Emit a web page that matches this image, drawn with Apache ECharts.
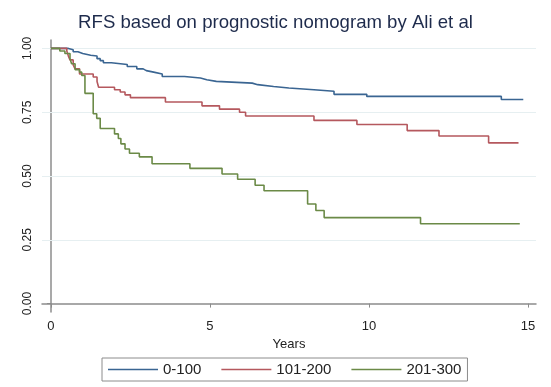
<!DOCTYPE html>
<html>
<head>
<meta charset="utf-8">
<script src="https://cdn.jsdelivr.net/npm/echarts@6/dist/echarts.min.js"></script>
<style>
	html, body { margin: 0; padding: 0; background: #fff; }
	#mychart { width: 551px; height: 387px; }
</style>
</head>
<body>
<div id="mychart"></div>
<script>
// 风险分组
var groups = ['0-100', '101-200', '201-300'];
// 刻度
var xTicks = [0, 5, 10, 15];
var yTicks = [0, 0.25, 0.5, 0.75, 1];
var gridVals = [0.25, 0.5, 0.75, 1];

// KM 曲线 [年, 生存率]
var low = [[0, 1], [0.55, 0.995], [0.7, 0.987], [0.85, 0.98], [1.0, 0.973], [1.25, 0.97], [1.45, 0.96],
	[1.55, 0.952], [1.65, 0.944], [1.9, 0.937], [2.4, 0.929], [2.7, 0.92], [2.9, 0.913], [3.0, 0.907],
	[3.23, 0.9], [3.5, 0.89], [4.2, 0.884], [4.7, 0.877], [4.9, 0.871], [5.2, 0.864], [6.33, 0.858],
	[6.5, 0.851], [7.0, 0.845], [7.48, 0.838], [8.27, 0.832], [8.9, 0.82], [9.93, 0.812], [14.16, 0.80],
	[14.85, 0.80]];
var mid = [[0, 1], [0.5, 0.99], [0.55, 0.97], [0.6, 0.955], [0.7, 0.935], [0.76, 0.92], [0.9, 0.9],
	[1.33, 0.888], [1.45, 0.87], [1.5, 0.848], [2.0, 0.838], [2.18, 0.829], [2.33, 0.818], [2.5, 0.807],
	[3.6, 0.79], [4.75, 0.775], [5.3, 0.762], [5.93, 0.75], [6.12, 0.735], [8.27, 0.718], [9.62, 0.702],
	[11.2, 0.678], [12.2, 0.657], [13.76, 0.63], [14.7, 0.63]];
var high = [[0, 1], [0.28, 0.99], [0.44, 0.98], [0.6, 0.96], [0.65, 0.94], [0.76, 0.917], [0.9, 0.907],
	[0.97, 0.894], [1.07, 0.824], [1.33, 0.744], [1.44, 0.726], [1.55, 0.686], [2.0, 0.665], [2.12, 0.647],
	[2.2, 0.626], [2.33, 0.606], [2.47, 0.589], [2.78, 0.575], [3.18, 0.548], [4.37, 0.53], [5.38, 0.508],
	[5.87, 0.487], [6.42, 0.464], [6.7, 0.442], [8.07, 0.39], [8.33, 0.365], [8.59, 0.337], [11.62, 0.313],
	[14.74, 0.313]];

var colors = ['#3a6592', '#b5585e', '#6b8a47'];
var font = 'Liberation Sans, Arial, sans-serif';

var myChart = echarts.init(document.getElementById('mychart'));
var option = {
	animation: false,
	color: colors,
	title: {
		text: 'RFS based on prognostic nomogram by Ali et al',
		left: 'center',
		top: 8,
		textStyle: {
			fontFamily: font,
			fontWeight: 'normal',
			fontSize: 18.6,
			color: '#1e2b4c'
		}
	},
	grid: {
		left: 42,
		right: 15,
		top: 40,
		bottom: 75
	},
	legend: {
		data: groups,
		left: 102,
		top: 358,
		icon: 'rect',
		itemWidth: 50,
		itemHeight: 1.5,
		itemGap: 20,
		padding: [4, 6, 4, 6],
		borderColor: '#8c8c8c',
		borderWidth: 1,
		textStyle: {
			fontFamily: font,
			fontSize: 15,
			color: '#222'
		}
	},
	xAxis: {
		type: 'value',
		min: -0.28,
		max: 15.25,
		name: 'Years',
		nameLocation: 'middle',
		nameGap: 25,
		nameTextStyle: { fontFamily: font, fontSize: 13, color: '#222' },
		axisLine: { lineStyle: { color: '#8c8c8c', width: 1.5 } },
		axisTick: { customValues: xTicks, length: 4, lineStyle: { color: '#8c8c8c' } },
		axisLabel: { customValues: xTicks, margin: 8, fontFamily: font, fontSize: 13, color: '#222' },
		splitLine: { show: false }
	},
	yAxis: {
		type: 'value',
		min: -0.033,
		max: 1.033,
		axisLine: { show: true, lineStyle: { color: '#8c8c8c', width: 1.5 } },
		axisTick: { show: true, customValues: yTicks, length: 4, lineStyle: { color: '#8c8c8c' } },
		axisLabel: {
			customValues: yTicks,
			rotate: 90,
			margin: 8,
			fontFamily: font,
			fontSize: 12,
			color: '#222',
			formatter: function(v) { return v.toFixed(2); }
		},
		splitLine: { show: false }
	},
	series: [
		{
			name: groups[0],
			type: 'line',
			step: 'end',
			showSymbol: false,
			lineStyle: { width: 1.6 },
			data: low,
			markLine: {
				silent: true,
				symbol: 'none',
				z: 1,
				label: { show: false },
				lineStyle: { color: '#e6eff1', width: 1, type: 'solid' },
				data: gridVals.map(function(v) { return { yAxis: v }; })
			}
		},
		{
			name: groups[1],
			type: 'line',
			step: 'end',
			showSymbol: false,
			lineStyle: { width: 1.6 },
			data: mid
		},
		{
			name: groups[2],
			type: 'line',
			step: 'end',
			showSymbol: false,
			lineStyle: { width: 1.6 },
			data: high
		}
	]
};
myChart.setOption(option);
</script>
</body>
</html>
